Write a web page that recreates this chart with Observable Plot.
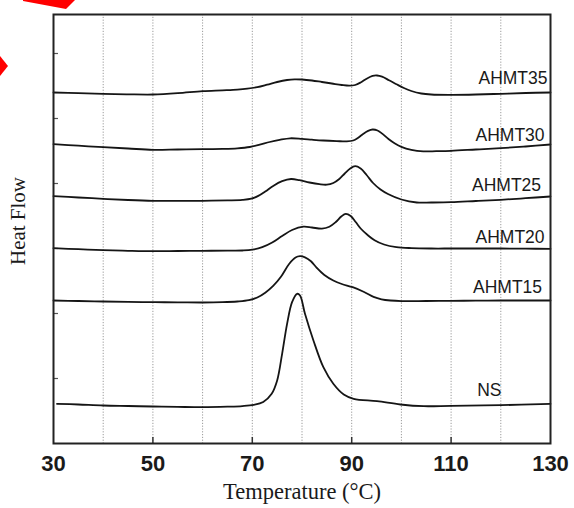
<!DOCTYPE html>
<html><head><meta charset="utf-8">
<script src="https://cdn.jsdelivr.net/npm/d3@7"></script>
<script src="https://cdn.jsdelivr.net/npm/@observablehq/plot@0.6"></script>
<style>
html,body{margin:0;padding:0;background:#fff;}
#wrap{position:relative;width:574px;height:508px;}
#deco{position:absolute;left:0;top:0;pointer-events:none;}
</style></head><body>
<div id="wrap"><div id="chart"></div>
<svg id="deco" width="574" height="508"><polygon points="23,0 75,0 66,9 23,1" fill="#ff0000"/><polygon points="0,56 8,66 0,76" fill="#ff0000"/></svg></div>
<script>
// Temperature (°C), heat flow (arbitrary units, curves offset for display)
const AHMT35 = [[30,351],[35,350.4],[40,349.7],[45,349.2],[50,349],[55,350.3],[60,352.4],[64,353.2],[67,353.9],[69,354.8],[71,356.3],[73,358.8],[75,361.5],[77,363.5],[78.5,364.2],[80,364],[82,363],[84,361.5],[86,360],[88,358.5],[89.5,357.8],[90.7,358.5],[91.8,361],[93,364.8],[94.2,367.6],[95.1,368],[96.1,366.8],[97.5,363.3],[99,359.3],[100.5,355.5],[102,352.5],[104,350],[106,349],[110,348.7],[115,349],[120,349.7],[125,350.5],[130,351]];
const AHMT30 = [[30,299.3],[35,297.8],[40,296.3],[45,295],[50,293.7],[55,294],[60,294.3],[64,294.6],[67,295.2],[69.5,296.5],[71.5,298.8],[73.5,301.5],[75.5,303.6],[77.6,305.2],[80,304.6],[82,303.8],[84.3,303],[87,302.4],[89,302.1],[90.3,303],[91.3,305.8],[92.3,309.6],[93.3,312.6],[94.2,314],[95.2,313],[96.2,309.6],[97.4,304.5],[98.7,300],[100,296.6],[102,293.6],[104.4,292.1],[107,292.3],[110,292.7],[115,294],[120,295.3],[125,297],[130,299]];
const AHMT25 = [[30,247.3],[35,246],[40,244.7],[45,243.5],[50,242.7],[55,242.7],[60,242.7],[65,243.1],[68,243.6],[69.8,244.8],[71.2,247.6],[72.6,252],[74.2,257.6],[76,262.3],[77.8,264.5],[79.5,263.3],[81.5,261],[83.5,259.3],[85,258.8],[86.3,260.5],[87.5,264.5],[88.6,270],[89.7,275],[90.7,277.3],[91.8,275],[93,268.5],[94.3,260.5],[95.8,254],[97.3,249.5],[100,244],[103.1,241],[106,241],[110,241.3],[115,242.5],[120,243.7],[125,245.3],[130,247]];
const AHMT20 = [[30,195.3],[35,194.3],[40,193.3],[45,192.7],[50,192.3],[55,192.5],[60,192.7],[65,192.8],[68,193],[70,193.8],[72,196.3],[74,201],[76,207.5],[78,213.5],[80.3,216.8],[82,216],[84,214.9],[85.5,216.8],[86.8,221.5],[87.9,227],[88.8,229.7],[89.8,227.5],[90.8,221.5],[91.9,214.5],[93.2,208.5],[94.6,203.3],[96.5,199],[99,196.4],[102,195.4],[106,195],[110,195],[115,195],[120,195],[125,194.8],[130,194.7]];
const AHMT15 = [[30,143],[35,142.5],[40,142],[45,141.7],[50,141.3],[55,141.2],[60,141],[64,141.3],[67,142],[69.3,143.3],[71,146],[72.6,150.8],[74.2,157.6],[75.8,167],[77.4,179.5],[78.7,186],[79.6,187.3],[80.6,186.2],[81.8,182.3],[83,175.5],[84.5,168.5],[86.3,163],[88,159.5],[90.2,156.3],[92.5,151.5],[94.4,146.6],[96,144.2],[97.8,143],[100,142.4],[105,142.5],[110,142.7],[115,142.8],[120,143],[125,143],[130,143]];
const NS = [[30.7,39.7],[35,39],[40,38],[45,37.5],[50,37],[55,36.6],[60,36.3],[65,36.8],[68,37.4],[70.3,38.6],[72.2,41.5],[73.9,49.7],[75,63],[76,89.7],[77,119.7],[78,141.3],[79,149.7],[79.6,148],[80.6,129.7],[82.3,103],[84.3,76.3],[86.3,59.7],[88.4,49],[90.4,44.7],[95.1,42.3],[99.8,39],[104.5,37.3],[110,37.7],[120,38.3],[130,39.7]];

const seriesNames = ["AHMT35","AHMT30","AHMT25","AHMT20","AHMT15","NS"];
const labelT = [129.4, 128.8, 128.1, 128.8, 128.3, 117.7];
const labelV = [364.7, 308, 258, 205.7, 156.3, 53];
const labelAnchor = ["end","end","end","end","end","middle"];

const xTickLabels = [30, 50, 70, 90, 110, 130];
const xInnerTicks = [50, 70, 90, 110];
const xGrid = [40, 50, 60, 70, 80, 90, 100, 110, 120];
const yTicks = [65, 130, 195, 260, 325, 390];

const curves = [AHMT35, AHMT30, AHMT25, AHMT20, AHMT15, NS];
const rows = curves.flatMap((c, i) => c.map(([t, v]) => ({series: seriesNames[i], t, v})));
const labels = seriesNames.map((s, i) => ({s, t: labelT[i], v: labelV[i], a: labelAnchor[i]}));

const chart = Plot.plot({
  width: 574, height: 508,
  marginLeft: 53, marginRight: 24, marginTop: 14, marginBottom: 65,
  style: {background: "#fff", color: "#222"},
  x: {domain: [30, 130]},
  y: {domain: [0, 429]},
  marks: [
    Plot.ruleX(xGrid, {stroke: "#9a9a9a", strokeWidth: 1, strokeDasharray: "1.2,1.6"}),
    Plot.axisX(xTickLabels, {tickSize: 0, tickPadding: 12, label: null, fontSize: 22, fontWeight: "bold", fontFamily: "Liberation Sans, Arial, sans-serif", fill: "#1a1a1a"}),
    Plot.axisX(xInnerTicks, {tickSize: -6, tickFormat: () => "", label: null, stroke: "#333", strokeWidth: 1.5}),
    Plot.axisY(yTicks, {anchor: "left", tickSize: -5, tickFormat: () => "", label: null, stroke: "#555", strokeWidth: 1.2}),
    Plot.line(rows, {x: "t", y: "v", z: "series", stroke: "#151515", strokeWidth: 1.8, curve: "catmull-rom"}),
    Plot.text(labels.filter(d => d.a === "end"), {x: "t", y: "v", text: "s", textAnchor: "end", fontSize: 17.5, fontFamily: "Liberation Sans, Arial, sans-serif", fill: "#1a1a1a"}),
    Plot.text(labels.filter(d => d.a === "middle"), {x: "t", y: "v", text: "s", textAnchor: "middle", fontSize: 17.5, fontFamily: "Liberation Sans, Arial, sans-serif", fill: "#1a1a1a"}),
    Plot.text(["Temperature (°C)"], {frameAnchor: "bottom", textAnchor: "middle", dy: 55, text: d => d, fontSize: 22.5, fontFamily: "Liberation Serif, Times New Roman, serif", fill: "#1a1a1a"}),
    Plot.text(["Heat Flow"], {frameAnchor: "left", textAnchor: "middle", dx: -35, dy: -8, rotate: -90, text: d => d, fontSize: 21, fontFamily: "Liberation Serif, Times New Roman, serif", fill: "#1a1a1a"}),
    Plot.frame({stroke: "#222", strokeWidth: 2})
  ]
});
document.getElementById("chart").appendChild(chart);
</script>
</body></html>
